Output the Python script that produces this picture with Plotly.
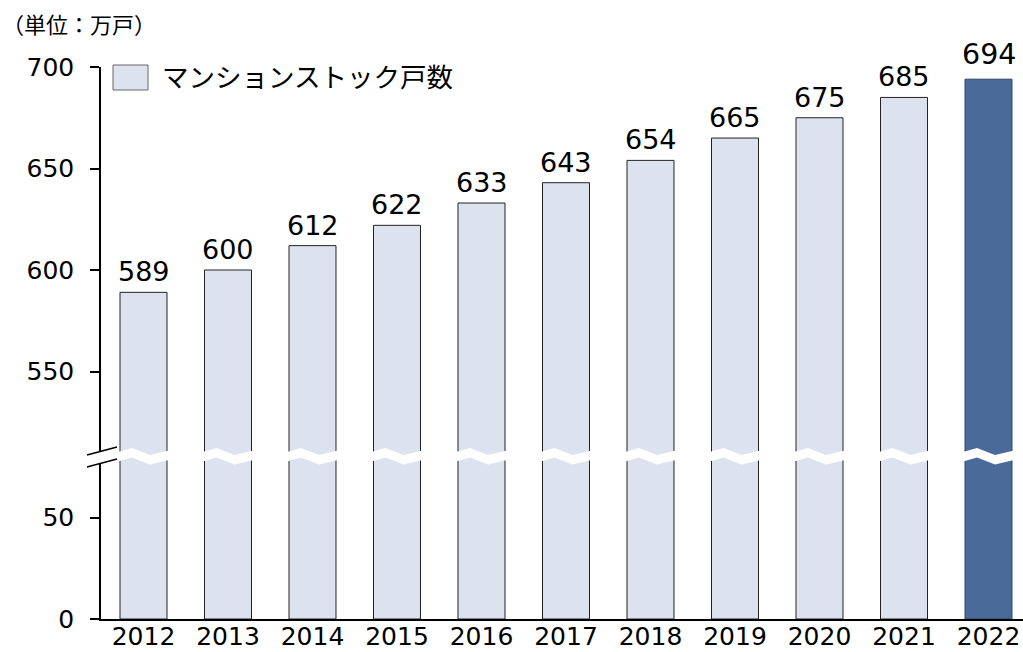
import plotly.graph_objects as go

years = ["2012", "2013", "2014", "2015", "2016", "2017", "2018", "2019", "2020", "2021", "2022"]
stock = [589, 600, 612, 622, 633, 643, 654, 665, 675, 685, 694]
series_name = "マンションストック戸数"
unit_label = "（単位：万戸）"
lower_ticks = [0, 50]
upper_ticks = [550, 600, 650, 700]

LIGHT = "#DDE3EE"
DARK = "#4A6A9A"
FONT = "DejaVu Sans, Noto Sans CJK JP, sans-serif"

W, H = 1023, 652
ML, MR, MT, MB = 101, 0, 67, 33
PW, PH = W - ML - MR, H - MT - MB
PX_PER_UNIT = 2.03
BREAK_PX = 457  # pixel y of break

lower_top = (H - MB - BREAK_PX) / PX_PER_UNIT
upper_bottom = 700 - (BREAK_PX - MT) / PX_PER_UNIT
d = (H - MB - BREAK_PX) / PH

xs = list(range(len(years)))
n = len(years)
colors = [LIGHT] * (n - 1) + [DARK]
lines = ["#222222"] * (n - 1) + ["#2C4469"]
bw = 0.556
px_per_x = 84.5
xmin = -0.503
xmax = xmin + PW / px_per_x

fig = go.Figure()
for ya in ["y", "y2"]:
    fig.add_trace(go.Bar(
        x=xs, y=stock, yaxis=ya, width=bw,
        marker=dict(color=colors, line=dict(color=lines, width=1)),
        showlegend=False, hoverinfo="skip"))


def py2paper(py):
    return (H - MB - py) / PH


def px2paper(px):
    return (px - ML) / PW


shapes = []
# white wavy band over each bar (axis break)
for i in xs:
    L = i - bw / 2
    R = i + bw / 2
    def X(off, base):
        return base + off / px_per_x
    top = [(X(-2, L), 452), (X(12, L), 448), (X(30, L), 455), (X(2, R), 450.5)]
    bot = [(x, y + 9.5) for x, y in top][::-1]
    pts = top + bot
    path = "M " + " L ".join(f"{x:.4f},{py2paper(y):.5f}" for x, y in pts) + " Z"
    shapes.append(dict(type="path", path=path, xref="x", yref="paper",
                       fillcolor="white", line=dict(width=0), layer="above"))
# gap in y axis line
shapes.append(dict(type="rect", xref="paper", yref="paper",
                   x0=px2paper(97), x1=px2paper(105),
                   y0=py2paper(463), y1=py2paper(451),
                   fillcolor="white", line=dict(width=0), layer="above"))
# break slashes
for y0 in (455, 467):
    shapes.append(dict(type="line", xref="paper", yref="paper",
                       x0=px2paper(87), y0=py2paper(y0),
                       x1=px2paper(117), y1=py2paper(y0 - 8),
                       line=dict(color="black", width=1.5), layer="above"))
# legend box
shapes.append(dict(type="rect", xref="paper", yref="paper",
                   x0=px2paper(113), x1=px2paper(148),
                   y0=py2paper(90), y1=py2paper(65),
                   fillcolor=LIGHT, line=dict(color="#666666", width=1)))

annotations = []
for i, v in zip(xs, stock):
    last = i == n - 1
    annotations.append(dict(x=i, y=v, xref="x", yref="y2", text=str(v),
                            showarrow=False, yanchor="bottom",
                            yshift=6 if last else 3,
                            font=dict(family=FONT, size=28.5 if last else 27, color="black")))
annotations.append(dict(x=px2paper(160), y=py2paper(78), xref="paper", yref="paper",
                        text=series_name, showarrow=False, xanchor="left", yanchor="middle",
                        font=dict(family=FONT, size=26.5, color="black")))
annotations.append(dict(x=px2paper(0), y=py2paper(25), xref="paper", yref="paper",
                        text=unit_label, showarrow=False, xanchor="left", yanchor="middle",
                        font=dict(family=FONT, size=22, color="black")))

axis_common = dict(showline=True, linecolor="black", linewidth=1.5, ticks="outside",
                   ticklen=9, tickcolor="black", tickwidth=1.5, showgrid=False,
                   zeroline=False, tickfont=dict(family=FONT, size=25, color="black"),
                   ticklabelstandoff=11, automargin=False)

fig.update_layout(
    width=W, height=H,
    margin=dict(l=ML, r=MR, t=MT, b=MB, pad=0, autoexpand=False),
    plot_bgcolor="white", paper_bgcolor="white",
    bargap=0.44,
    xaxis=dict(range=[xmin, xmax], tickvals=xs, ticktext=years, showline=True,
               linecolor="black", linewidth=1.5, ticks="", showgrid=False, zeroline=False,
               tickfont=dict(family=FONT, size=25, color="black"), anchor="y",
               automargin=False, ticklabelstandoff=-6),
    yaxis=dict(domain=[0, d], range=[0, lower_top], tickvals=lower_ticks, anchor="x",
               **axis_common),
    yaxis2=dict(domain=[d, 1], range=[upper_bottom, 700], tickvals=upper_ticks, anchor="x",
                **axis_common),
    shapes=shapes, annotations=annotations,
)

fig.write_html("out.html", config={"displayModeBar": False},
               post_script="document.body.style.margin='0';document.body.style.overflow='hidden';")
